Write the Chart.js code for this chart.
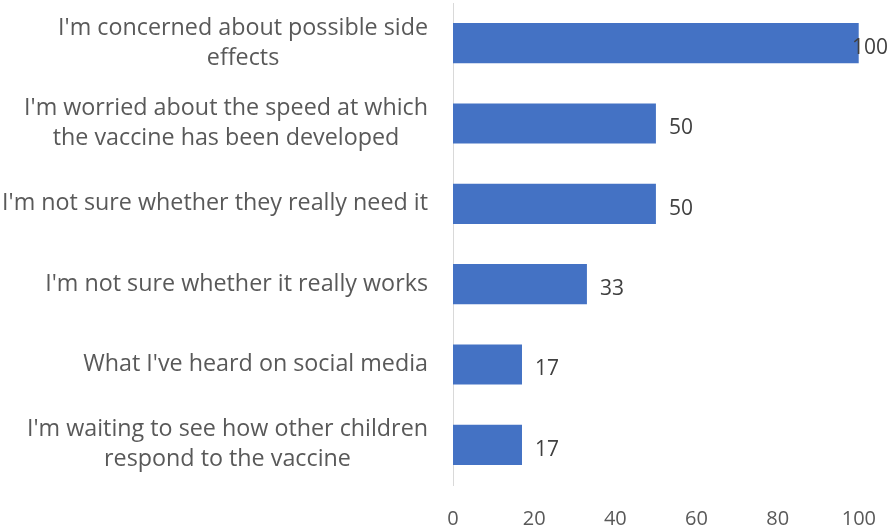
<!DOCTYPE html>
<html>
<head>
<meta charset="utf-8">
<script src="https://cdn.jsdelivr.net/npm/chart.js@4/dist/chart.umd.min.js"></script>
<style>
  html, body { margin: 0; padding: 0; background: #fff; }
  #wrap { width: 890px; height: 532px; }
</style>
</head>
<body>
<div id="wrap"><canvas id="reasonsChart" width="890" height="532"></canvas></div>
<script>
// #### Data
const categories = [
    ["I'm concerned about possible side", "effects"],
    ["I'm worried about the speed at which", "the vaccine has been developed"],
    ["I'm not sure whether they really need it"],
    ["I'm not sure whether it really works"],
    ["What I've heard on social media"],
    ["I'm waiting to see how other children", "respond to the vaccine"]
];
const values = [100, 50, 50, 33, 17, 17];
const xTicks = [0, 20, 40, 60, 80, 100];

const FONT = '"Open Sans", sans-serif';

// draws the category labels: block right-aligned, lines centred on each other
const categoryLabels = {
    id: 'categoryLabels',
    afterDraw(chart) {
        const ctx = chart.ctx;
        const y = chart.scales.y;
        const right = chart.chartArea.left - 25;
        ctx.save();
        ctx.font = '23.3px ' + FONT;
        ctx.fillStyle = '#595959';
        ctx.textAlign = 'center';
        ctx.textBaseline = 'middle';
        categories.forEach((lines, i) => {
            const mid = y.getPixelForTick(i);
            const w = Math.max(...lines.map(l => ctx.measureText(l).width));
            const cx = right - w / 2;
            const top = mid - (lines.length - 1) * 15;
            lines.forEach((l, j) => ctx.fillText(l, cx, top + j * 30));
        });
        ctx.restore();
    }
};

// value labels at the end of each bar
const valueLabels = {
    id: 'valueLabels',
    afterDatasetsDraw(chart) {
        const ctx = chart.ctx;
        const meta = chart.getDatasetMeta(0);
        ctx.save();
        ctx.font = '21px ' + FONT;
        ctx.fillStyle = '#404040';
        ctx.textAlign = 'left';
        ctx.textBaseline = 'middle';
        meta.data.forEach((bar, i) => {
            const txt = String(values[i]);
            const w = ctx.measureText(txt).width;
            const x = Math.min(bar.x + 13, chart.width - w - 2);
            ctx.fillText(txt, x, bar.y + 5);
        });
        ctx.restore();
    }
};

new Chart(document.getElementById('reasonsChart').getContext('2d'), {
    type: 'bar',
    data: {
        labels: categories.map(c => c.join(' ')),
        datasets: [{
            data: values,
            backgroundColor: '#4472C4',
            borderWidth: 0,
            categoryPercentage: 1,
            barPercentage: 0.5
        }]
    },
    options: {
        indexAxis: 'y',
        responsive: false,
        animation: false,
        layout: { padding: { left: 445, right: 29, top: 3, bottom: 0 } },
        scales: {
            x: {
                min: 0,
                max: 100,
                afterBuildTicks: axis => { axis.ticks = xTicks.map(v => ({ value: v })); },
                afterFit: axis => { axis.height = 47; },
                grid: { display: false },
                border: { display: false },
                ticks: {
                    color: '#595959',
                    font: { family: FONT, size: 20 },
                    padding: 14,
                    maxRotation: 0
                }
            },
            y: {
                grid: { display: false },
                border: { display: true, color: '#d9d9d9', width: 1 },
                ticks: { display: false }
            }
        },
        plugins: {
            legend: { display: false },
            tooltip: { enabled: false }
        }
    },
    plugins: [categoryLabels, valueLabels]
});
</script>
</body>
</html>
